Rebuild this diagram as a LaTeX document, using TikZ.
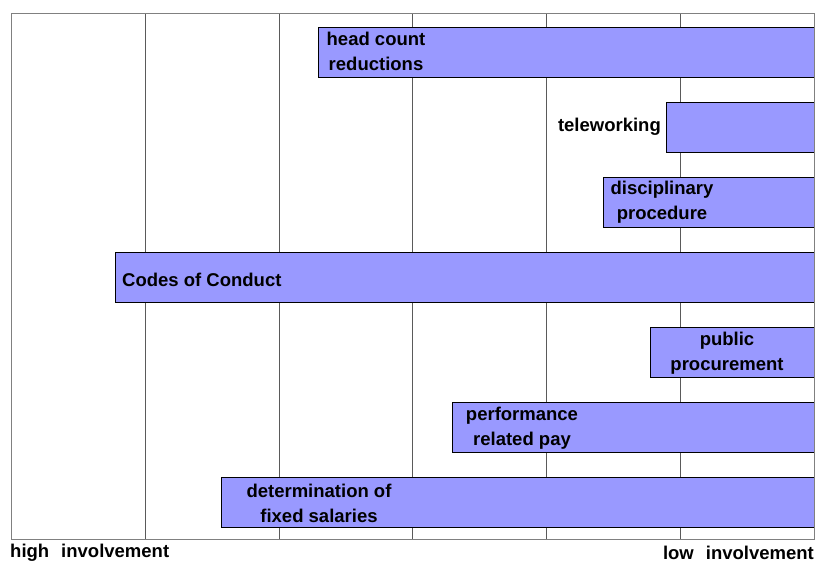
\documentclass[tikz,border=0pt]{standalone}
\usepackage{fontspec}
\setmainfont{Liberation Sans}
\definecolor{barfill}{RGB}{153,153,255}
\definecolor{framegray}{RGB}{128,128,128}
\definecolor{gridgray}{RGB}{90,90,90}
\begin{document}
\begin{tikzpicture}[x=1pt,y=-1pt,
  bar/.style={draw=black,line width=0.9pt,fill=barfill},
  lbl/.style={font=\fontsize{18.5}{25}\selectfont\bfseries,align=center,inner sep=0pt},
  axislbl/.style={font=\fontsize{18.5}{20}\selectfont\bfseries,inner sep=0pt}]
\useasboundingbox (0,0) rectangle (819,563);
% vertical grid lines
\foreach \gx in {145,279,412,546,680}
  \draw[gridgray,line width=0.9pt] (\gx,13) -- (\gx,539);
% bars
\draw[bar] (318,27) rectangle (814,77);
\draw[bar] (666,102) rectangle (814,152);
\draw[bar] (603,177) rectangle (814,227);
\draw[bar] (115,252) rectangle (814,302);
\draw[bar] (650,327) rectangle (814,377);
\draw[bar] (452,402) rectangle (814,452);
\draw[bar] (221,477) rectangle (814,527);
% plot frame
\draw[framegray,line width=1pt] (11,13) rectangle (814,539);
% bar labels
\node[lbl] (headcount) at (376,51) {head count\\reductions};
\node[lbl,anchor=east] (telework) at (661,127) {teleworking};
\node[lbl] (discipline) at (662,202) {disciplinary\\procedure};
\node[lbl,anchor=west] (codes) at (122,280) {Codes of Conduct};
\node[lbl] (procure) at (727,353) {public\\procurement};
\node[lbl] (perfpay) at (522,428) {performance\\related pay};
\node[lbl] (salaries) at (319,503) {determination of\\fixed salaries};
% axis end labels
\node[axislbl,anchor=west] (high) at (10,553) {high\hspace{12pt}involvement};
\node[axislbl,anchor=east] (low) at (814,553) {low\hspace{12pt}involvement};
\end{tikzpicture}
\end{document}
